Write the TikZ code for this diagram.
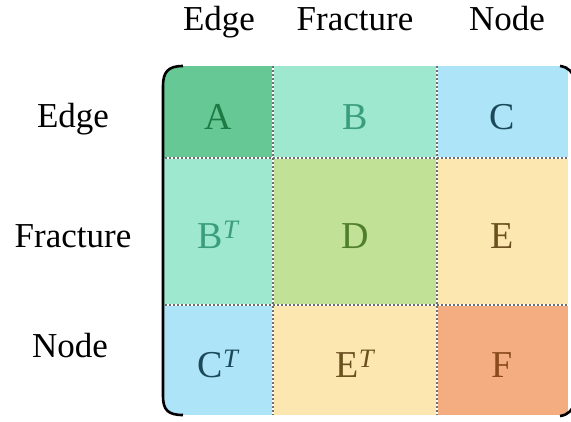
\documentclass[tikz,border=0pt]{standalone}
\usepackage{fontspec}
\setmainfont{Liberation Serif}
\definecolor{fA}{HTML}{66C995}
\definecolor{fB}{HTML}{9EE8D0}
\definecolor{fC}{HTML}{AEE4F8}
\definecolor{fD}{HTML}{C0E196}
\definecolor{fE}{HTML}{FDE7B0}
\definecolor{fF}{HTML}{F3AD80}
\definecolor{tA}{HTML}{1E7A44}
\definecolor{tB}{HTML}{3A9E7A}
\definecolor{tC}{HTML}{1A4A5A}
\definecolor{tD}{HTML}{4F7F2A}
\definecolor{tE}{HTML}{6B5020}
\definecolor{tF}{HTML}{8B4A1E}
\definecolor{sep}{HTML}{6E6E6E}
\newcommand{\supT}{\textsuperscript{\itshape T}}
\begin{document}
\begin{tikzpicture}[x=1pt,y=-1pt,
  lbl/.style={anchor=base,font=\fontsize{35}{40}\selectfont,text=black,inner sep=0pt},
  cell/.style={anchor=base,font=\fontsize{38}{44}\selectfont,inner sep=0pt},
  sepunder/.style={white,line width=2.6pt},
  sepline/.style={sep,line width=2.2pt,dash pattern=on 2pt off 2pt},
  brk/.style={black,line width=2.6pt}]
\useasboundingbox (0,0) rectangle (571,421);
% cells
\begin{scope}
\clip (183,66) .. controls (168,66) and (163,72) .. (163,86) -- (163,396) .. controls (163,410) and (168,415) .. (183,415) -- (568,415) -- (568,66) -- cycle;
\fill[fA] (163,66) rectangle (273,158);
\fill[fB] (273,66) rectangle (437,158);
\fill[fC] (437,66) rectangle (568,158);
\fill[fB] (163,158) rectangle (273,305);
\fill[fD] (273,158) rectangle (437,305);
\fill[fE] (437,158) rectangle (568,305);
\fill[fC] (163,305) rectangle (273,415);
\fill[fE] (273,305) rectangle (437,415);
\fill[fF] (437,305) rectangle (568,415);
\end{scope}
% separators
\coordinate (v1t) at (273,66); \coordinate (v1b) at (273,415);
\coordinate (v2t) at (437,66); \coordinate (v2b) at (437,415);
\coordinate (h1l) at (165,158); \coordinate (h1r) at (568,158);
\coordinate (h2l) at (165,305); \coordinate (h2r) at (568,305);
\draw[sepunder] (v1t) -- (v1b);
\draw[sepunder] (v2t) -- (v2b);
\draw[sepunder] (h1l) -- (h1r);
\draw[sepunder] (h2l) -- (h2r);
\draw[sepline] (v1t) -- (v1b);
\draw[sepline] (v2t) -- (v2b);
\draw[sepline] (h1l) -- (h1r);
\draw[sepline] (h2l) -- (h2r);
% brackets
\draw[brk] (183,66) .. controls (168,66) and (163,72) .. (163,86) -- (163,396) .. controls (163,410) and (168,415) .. (183,415);
\draw[brk] (560,66) .. controls (568,67) and (573,72) .. (575,80) -- (575,402) .. controls (573,410) and (568,415) .. (560,416);
% column labels
\node[lbl] (cE) at (219,30) {Edge};
\node[lbl] (cF) at (355,30) {Fracture};
\node[lbl] (cN) at (507,30) {Node};
% row labels
\node[lbl] (rE) at (73,127) {Edge};
\node[lbl] (rF) at (73,247) {Fracture};
\node[lbl] (rN) at (70,357) {Node};
% cell texts
\node[cell,text=tA] (A) at (218,129) {A};
\node[cell,text=tB] (B) at (355,129) {B};
\node[cell,text=tC] (C) at (502,129) {C};
\node[cell,text=tB] (BT) at (218,248) {B\supT};
\node[cell,text=tD] (D) at (355,248) {D};
\node[cell,text=tE] (E) at (502,248) {E};
\node[cell,text=tC] (CT) at (218,377) {C\supT};
\node[cell,text=tE] (ET) at (355,377) {E\supT};
\node[cell,text=tF] (F) at (502,377) {F};
\end{tikzpicture}
\end{document}
